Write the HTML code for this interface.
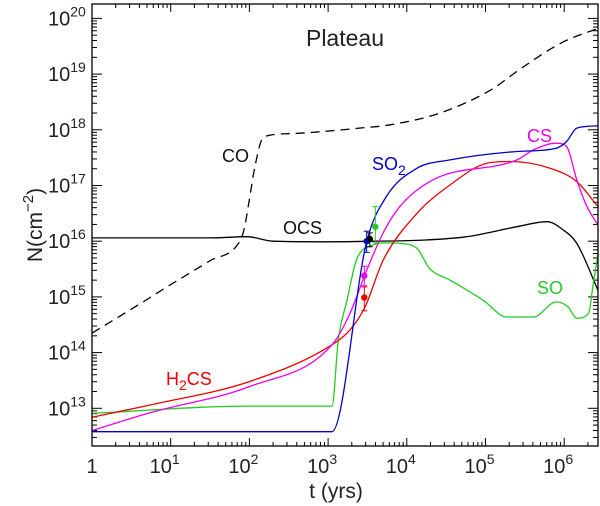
<!DOCTYPE html>
<html><head><meta charset="utf-8"><style>
body{margin:0;background:#fff}
svg{display:block;font-family:"Liberation Sans","DejaVu Sans",sans-serif}
</style></head><body>
<svg id="chart" width="600" height="506" viewBox="0 0 600 506" xmlns="http://www.w3.org/2000/svg">
<g id="ticks"></g>
<g id="curves"></g>
<g id="points"></g>
<rect x="92" y="4" width="506" height="442" fill="none" stroke="#000" stroke-width="1.3"/>
<g id="labels" font-size="20" fill="#222"></g>
<text x="345" y="46" font-size="23" text-anchor="middle" fill="#222">Plateau</text>
<text x="336" y="498" font-size="21" text-anchor="middle" fill="#222">t (yrs)</text>
<text transform="translate(42,225) rotate(-90)" font-size="21" text-anchor="middle" fill="#222">N(cm<tspan dy="-9" font-size="15">−2</tspan><tspan dy="9">)</tspan></text>
<text x="222" y="162" font-size="18" fill="#111">CO</text>
<text x="283" y="234" font-size="18" fill="#111">OCS</text>
<text x="372" y="170" font-size="18" fill="#00c">SO<tspan dy="5" font-size="14">2</tspan></text>
<text x="527" y="142" font-size="18" fill="#e0e">CS</text>
<text x="537" y="294" font-size="18" fill="#2c2">SO</text>
<text x="166" y="385" font-size="18" fill="#e00">H<tspan dy="5" font-size="14">2</tspan><tspan dy="-5">CS</tspan></text>
</svg>
<script>
// data in log10 space: [log10 t(yrs), log10 N(cm^-2)]
const coLogT  = [0,0.5,1.0,1.5,1.86,1.93,2.0,2.07,2.18,2.5,2.94,3.4,3.79,4.42,5.06,5.48,5.99,6.43];
const coLogN  = [14.35,14.78,15.22,15.65,15.96,16.2,16.75,17.34,17.87,17.93,17.97,18.03,18.09,18.30,18.71,19.13,19.58,19.82];
const ocsLogT = [0,1.5,1.97,2.3,3.0,3.6,4.2,4.76,5.4,5.78,5.99,6.16,6.43];
const ocsLogN = [16.06,16.06,16.08,16.0,15.99,16.0,16.02,16.08,16.26,16.35,16.2,15.96,15.12];
const so2LogT = [0,3.05,3.49,3.74,4.13,4.55,5.40,5.90,6.03,6.16,6.43];
const so2LogN = [12.58,12.58,15.99,16.8,17.31,17.46,17.61,17.67,17.79,18.03,18.07];
const csLogT  = [0,0.737,2.0,3.05,3.28,3.49,3.7,3.91,4.33,5.40,5.61,5.90,6.03,6.16,6.29,6.43];
const csLogN  = [12.6,12.92,13.39,14.14,14.71,15.48,16.15,16.62,17.1,17.46,17.64,17.76,17.70,17.1,16.62,16.29];
const h2csLogT= [0,0.737,2.0,3.05,3.28,3.47,3.70,4.13,4.55,5.02,5.31,5.82,6.16,6.43];
const h2csLogN= [12.84,13.06,13.48,14.14,14.41,14.82,15.66,16.5,17.01,17.4,17.43,17.31,17.07,16.62];
const soLogT  = [0,2.0,3.05,3.13,3.24,3.36,3.57,3.74,3.91,4.13,4.29,4.55,4.97,5.27,5.61,5.90,6.05,6.16,6.31,6.37,6.43];
const soLogN  = [12.91,13.04,13.04,14.23,14.94,15.66,15.93,15.97,15.96,15.87,15.51,15.3,14.94,14.64,14.64,14.91,14.82,14.62,14.71,15.24,15.78];
const obsNames= ['h2cs','cs','so2','ocs','so'];
const obsLogT = [3.46,3.46,3.49,3.53,3.60];
const obsLogN = [14.99,15.38,16.0,16.04,16.26];
const obsErrLo= [14.75,15.2,15.8,15.9,15.97];
const obsErrHi= [15.18,15.55,16.18,16.15,16.62];
const obsColors=['#e00','#e0e','#00c','#000','#2c2'];
const xTickLabels=['1','10','10','10','10','10','10'];
const xTickExp   =['','1','2','3','4','5','6'];
const yTickExp   =['13','14','15','16','17','18','19','20'];

const NS='http://www.w3.org/2000/svg';
function X(lt){return 92+78.7*lt;}
function Y(ln){return 408.3-55.7*(ln-13);}
function mk(tag,attrs,parent){const e=document.createElementNS(NS,tag);for(const k in attrs)e.setAttribute(k,attrs[k]);parent.appendChild(e);return e;}
const ticks=document.getElementById('ticks'),curves=document.getElementById('curves'),pts=document.getElementById('points'),labs=document.getElementById('labels');

for(let d=0;d<=6;d++){for(let m=1;m<=9;m++){const lt=d+Math.log10(m);const x=X(lt);if(x>598)continue;const L=m===1?8:4;
 const t1=mk('line',{x1:x,y1:446,x2:x,y2:446-L,stroke:'#000','stroke-width':1},ticks);
 
 
 const t2=mk('line',{x1:x,y1:4,x2:x,y2:4+L,stroke:'#000','stroke-width':1},ticks);
 
 
}}
for(let d=12;d<=20;d++){for(let m=1;m<=9;m++){const ln=d+Math.log10(m);const y=Y(ln);if(y>446||y<4)continue;const L=m===1?10:5;
 const t1=mk('line',{x1:92,y1:y,x2:92+L,y2:y,stroke:'#000','stroke-width':1},ticks);
 
 
 const t2=mk('line',{x1:598,y1:y,x2:598-L,y2:y,stroke:'#000','stroke-width':1},ticks);
 
 
}}
xTickLabels.forEach((s,i)=>{const t=mk('text',{x:X(i)+(i?-6:0),y:473,'text-anchor':'middle'},labs);
 
 
 t.textContent=s; if(xTickExp[i]){const sp=mk('tspan',{dy:-9,'font-size':14},t);sp.textContent=xTickExp[i];}});
yTickExp.forEach((s,i)=>{const t=mk('text',{x:48,y:Y(13+i)+7},labs);
 
 
 t.textContent='10'; const sp=mk('tspan',{dy:-9,'font-size':14},t);sp.textContent=s;});

function path(lt,ln){
 const xs=lt.map(X),ys=ln.map(Y),n=xs.length;
 const d=[],m=new Array(n);
 for(let i=0;i<n-1;i++)d.push((ys[i+1]-ys[i])/(xs[i+1]-xs[i]));
 m[0]=d[0];m[n-1]=d[n-2];
 for(let i=1;i<n-1;i++){m[i]=(d[i-1]*d[i]<=0)?0:(d[i-1]+d[i])/2;}
 for(let i=0;i<n-1;i++){if(d[i]===0){m[i]=0;m[i+1]=0;continue;}
  const a=m[i]/d[i],b=m[i+1]/d[i],s=a*a+b*b;if(s>9){const t=3/Math.sqrt(s);m[i]=t*a*d[i];m[i+1]=t*b*d[i];}}
 let p='M'+xs[0].toFixed(1)+','+ys[0].toFixed(1);
 for(let i=0;i<n-1;i++){const h=(xs[i+1]-xs[i])/3;
  p+=' C'+(xs[i]+h).toFixed(1)+','+(ys[i]+m[i]*h).toFixed(1)+' '+(xs[i+1]-h).toFixed(1)+','+(ys[i+1]-m[i+1]*h).toFixed(1)+' '+xs[i+1].toFixed(1)+','+ys[i+1].toFixed(1);}
 return p;
}
function series(name,lt,ln,color,dash){
 const p=mk('path',{d:path(lt,ln),fill:'none',stroke:color,'stroke-width':1.3,'stroke-linejoin':'round'},curves);
 if(dash)p.setAttribute('stroke-dasharray',dash);
 
 
}
series('co-curve',coLogT,coLogN,'#000','9,6');
series('ocs-curve',ocsLogT,ocsLogN,'#000');
series('so-curve',soLogT,soLogN,'#2c2');
series('h2cs-curve',h2csLogT,h2csLogN,'#e00');
series('cs-curve',csLogT,csLogN,'#e0e');
series('so2-curve',so2LogT,so2LogN,'#00c');

obsLogT.forEach((lt,i)=>{const x=X(lt),c=obsColors[i];
 const g=mk('g',{},pts);
 
 
 mk('line',{x1:x,y1:Y(obsErrLo[i]),x2:x,y2:Y(obsErrHi[i]),stroke:c,'stroke-width':1},g);
 mk('line',{x1:x-3,y1:Y(obsErrLo[i]),x2:x+3,y2:Y(obsErrLo[i]),stroke:c,'stroke-width':1},g);
 mk('line',{x1:x-3,y1:Y(obsErrHi[i]),x2:x+3,y2:Y(obsErrHi[i]),stroke:c,'stroke-width':1},g);
 mk('circle',{cx:x,cy:Y(obsLogN[i]),r:3.2,fill:c},g);
});
</script>
</body></html>
